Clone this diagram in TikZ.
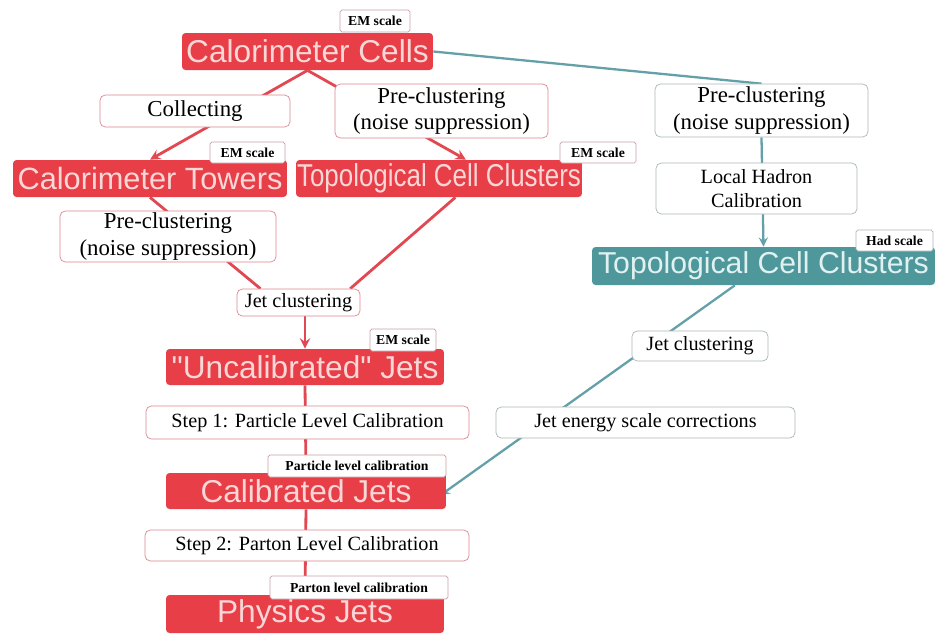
\documentclass[tikz,border=0pt]{standalone}
\usepackage{fontspec}
\setmainfont{Liberation Serif}
\newfontfamily\boxsans{Liberation Sans}
\usetikzlibrary{arrows, backgrounds}

\definecolor{calred}{RGB}{231,62,72}
\definecolor{calpink}{RGB}{250,215,215}
\definecolor{hadteal}{RGB}{78,152,156}
\definecolor{hadtext}{RGB}{225,240,240}
\definecolor{emlinecol}{RGB}{225,72,82}
\definecolor{hadlinecol}{RGB}{100,160,168}
\definecolor{emframe}{RGB}{220,135,145}
\definecolor{hadframe}{RGB}{170,182,184}
\definecolor{tagframe}{RGB}{200,160,165}

\tikzset{
  cellbox/.style={fill=calred, text=calpink, rounded corners=2pt, inner sep=0pt,
    font=\boxsans\fontsize{18}{20}\selectfont},
  hadbox/.style={cellbox, fill=hadteal, text=hadtext},
  stepbox/.style={draw=emframe, fill=white, rounded corners=3pt, inner sep=0pt,
    align=center, font=\fontsize{11.5}{13.5}\selectfont},
  hadstep/.style={stepbox, draw=hadframe},
  bigstep/.style={font=\fontsize{13}{15}\selectfont},
  scaletag/.style={draw=tagframe, fill=white, rounded corners=1pt, inner sep=0pt,
    font=\bfseries\fontsize{7.8}{9}\selectfont},
  emline/.style={draw=emlinecol, line width=1.6pt},
  hadline/.style={draw=hadlinecol, line width=1.3pt},
}

\begin{document}
\begin{tikzpicture}[x=0.02cm, y=-0.02cm, >=stealth]
\useasboundingbox (0,0) rectangle (936,633);

% Cells
\node[cellbox, minimum width=5.02cm, minimum height=0.74cm] (cells) at (307.5,51.5) {Calorimeter Cells};
\node[scaletag, minimum width=1.4cm, minimum height=0.44cm] (cellstag) at (375,21) {EM scale};

% first step boxes
\node[stepbox, bigstep, minimum width=3.8cm, minimum height=0.64cm] (collect) at (195,111) {Collecting};
\node[stepbox, bigstep, minimum width=4.26cm, minimum height=1.08cm] (precm) at (441.5,111) {Pre-clustering\\(noise suppression)};
\node[hadstep, bigstep, minimum width=4.26cm, minimum height=1.06cm] (prehad) at (761.5,110.5) {Pre-clustering\\(noise suppression)};

% Towers and clusters
\node[cellbox, font=\boxsans\fontsize{17.5}{20}\selectfont, minimum width=5.48cm, minimum height=0.74cm] (towers) at (150,178.5) {Calorimeter Towers};
\node[scaletag, minimum width=1.5cm, minimum height=0.42cm] (towerstag) at (247.5,152.5) {EM scale};
\node[cellbox, minimum width=5.72cm, minimum height=0.74cm] (topoem) at (439,178.5) {\scalebox{0.82}[1]{Topological Cell Clusters}};
\node[scaletag, minimum width=1.52cm, minimum height=0.42cm] (topoemtag) at (598,152.5) {EM scale};
\node[hadstep, minimum width=4.02cm, minimum height=1.02cm] (lhc) at (756.5,188.5) {Local Hadron\\Calibration};
\node[hadbox, font=\boxsans\fontsize{17.2}{20}\selectfont, minimum width=6.86cm, minimum height=0.76cm] (topohad) at (763.5,266) {Topological Cell Clusters};
\node[scaletag, draw=hadframe, minimum width=1.54cm, minimum height=0.42cm] (topohadtag) at (894.5,240.5) {Had scale};

% Jets
\node[stepbox, bigstep, minimum width=4.32cm, minimum height=1.02cm] (pretow) at (168,236.5) {Pre-clustering\\(noise suppression)};
\node[stepbox, minimum width=2.46cm, minimum height=0.54cm] (jcem) at (298.5,302.5) {Jet clustering};
\node[cellbox, minimum width=5.56cm, minimum height=0.72cm] (uncal) at (305,367) {"Uncalibrated" Jets};
\node[scaletag, minimum width=1.32cm, minimum height=0.44cm] (uncaltag) at (403,340) {EM scale};
\node[stepbox, minimum width=6.46cm, minimum height=0.66cm] (step1) at (307.5,422.5) {Step 1: Particle Level Calibration};
\node[hadstep, minimum width=2.72cm, minimum height=0.6cm] (jchad) at (700,346) {Jet clustering};
\node[hadstep, minimum width=5.98cm, minimum height=0.62cm] (jes) at (645.5,422.5) {Jet energy scale corrections};
\node[cellbox, minimum width=5.6cm, minimum height=0.72cm] (calib) at (306,491) {Calibrated Jets};
\node[scaletag, minimum width=3.56cm, minimum height=0.44cm] (calibtag) at (357,466) {Particle level calibration};
\node[stepbox, minimum width=6.48cm, minimum height=0.62cm] (step2) at (307,545.5) {Step 2: Parton Level Calibration};
\node[cellbox, minimum width=5.56cm, minimum height=0.76cm] (phys) at (305,614) {Physics Jets};
\node[scaletag, minimum width=3.56cm, minimum height=0.46cm] (phystag) at (359,587.5) {Parton level calibration};

% Connectors
\begin{scope}[on background layer]
\draw[emline, ->] (cells.south) -- (towers.north);
\draw[emline, ->] (cells.south) -- (topoem.35);
\draw[hadline] (cells.east) -- (prehad.north);
\draw[hadline, ->] (prehad.south) -- (topohad.north);
\draw[emline] (towers.south) -- (jcem.160);
\draw[emline] (topoem.-49) -- (jcem.15);
\draw[emline, ->] (jcem.south -| uncal.north) -- (uncal.north);
\draw[emline] (uncal.south) -- (calib.north);
\draw[emline] (calib.south) -- (phys.north);
\draw[hadline, ->, shorten >=-4pt] (topohad.-146) -- (calib.east);
\end{scope}
\end{tikzpicture}
\end{document}
